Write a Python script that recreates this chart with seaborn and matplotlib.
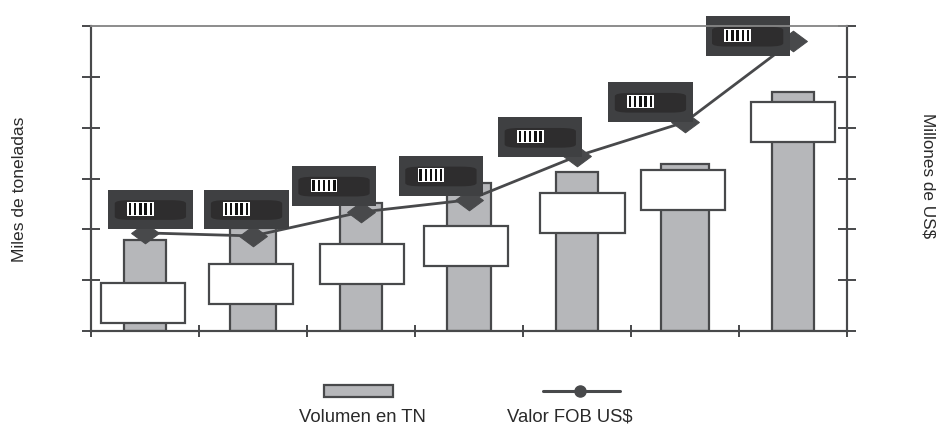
import matplotlib
matplotlib.use("Agg")
import matplotlib.pyplot as plt
from matplotlib.lines import Line2D
from matplotlib.patches import FancyBboxPatch, Rectangle
import pandas as pd
import seaborn as sns

# periods are not readable in the source, they are masked
periods = ["1", "2", "3", "4", "5", "6", "7"]
volumen = [1.79, 2.03, 2.52, 2.91, 3.13, 3.29, 4.70]
valor_fob = [1.93, 1.87, 2.34, 2.58, 3.44, 4.11, 5.71]

# white boxes over the bars, dark boxes over the line
white_low = [0.16, 0.53, 0.92, 1.28, 1.93, 2.38, 3.72]
dark_low = [2.00, 2.00, 2.46, 2.66, 3.42, 4.11, 5.41]

BAR_WIDTHS = [0.39, 0.435, 0.38, 0.41, 0.39, 0.445, 0.38]
WHITE_SHIFT = [-0.02, -0.02, 0.01, -0.03, 0.05, -0.02, 0.0]
DARK_SHIFT = [0.05, -0.06, -0.25, -0.26, -0.34, -0.32, -0.42]

EDGE = "#48494b"
BAR = "#b6b7ba"
DARK = "#3f4042"
BLOB = "#2e2d2e"
WIDE_DIAMOND = [(-1.35, 0), (0, -1), (1.35, 0), (0, 1), (-1.35, 0)]

sns.set_theme(style="white")
plt.rcParams["font.family"] = ["Liberation Sans", "DejaVu Sans"]

df = pd.DataFrame({"periodo": periods, "volumen": volumen, "valor": valor_fob})
df["pos"] = range(len(df))

fig = plt.figure(figsize=(9.4, 4.25), dpi=100)
ax = fig.add_axes([91 / 940, (425 - 331) / 425, 756 / 940, 305 / 425])

sns.barplot(data=df, x="periodo", y="volumen", color=BAR, saturation=1, width=0.4,
            edgecolor=EDGE, linewidth=1.6, zorder=2, ax=ax)
for bar, w in zip(ax.patches, BAR_WIDTHS):
    center = bar.get_x() + bar.get_width() / 2
    bar.set_width(w)
    bar.set_x(center - w / 2)

sns.lineplot(data=df, x="pos", y="valor", color=EDGE, linewidth=2, marker=WIDE_DIAMOND,
             markersize=20, markeredgecolor=EDGE, zorder=4, clip_on=False, ax=ax)

for i in range(len(periods)):
    ax.add_patch(Rectangle((i + WHITE_SHIFT[i] - 0.39, white_low[i]), 0.78, 0.79, facecolor="white",
                           edgecolor=EDGE, linewidth=1.6, zorder=3))

    left = i + DARK_SHIFT[i] - 0.39
    ax.add_patch(Rectangle((left, dark_low[i]), 0.78, 0.78, facecolor=DARK, edgecolor="none",
                           zorder=5, clip_on=False))
    ax.add_patch(FancyBboxPatch((left + 0.09, dark_low[i] + 0.2), 0.6, 0.36,
                                boxstyle="round,pad=0.03,rounding_size=0.14",
                                mutation_aspect=0.45, facecolor=BLOB, edgecolor="none",
                                zorder=6, clip_on=False))
    # little barcode mark
    ax.add_patch(Rectangle((left + 0.175, dark_low[i] + 0.27), 0.245, 0.27, facecolor="white",
                           edgecolor="none", zorder=7, clip_on=False))
    for k in range(5):
        ax.add_patch(Rectangle((left + 0.19 + k * 0.048, dark_low[i] + 0.29), 0.022, 0.23,
                               facecolor="#111111", edgecolor="none", zorder=8, clip_on=False))

ax.set_xlim(-0.5, 6.5)
ax.set_ylim(0, 6)
ax.set_xticks([x - 0.5 for x in range(8)])
ax.set_xticklabels([])
ax.set_yticks(range(7))
ax.set_yticklabels([])
ax.set_xlabel("")
ax.set_ylabel("")
ax.tick_params(axis="y", left=True, direction="inout", length=13.5, width=1.4, color=EDGE)
ax.tick_params(axis="x", bottom=True, direction="inout", length=8.6, width=1.4, color=EDGE)

ax2 = ax.twinx()
ax2.set_ylim(0, 6)
ax2.set_yticks(range(7))
ax2.set_yticklabels([])
ax2.tick_params(axis="y", right=True, direction="inout", length=13.5, width=1.4, color=EDGE)

for a in [ax, ax2]:
    for name, sp in a.spines.items():
        sp.set_visible(True)
        sp.set_color(EDGE)
        sp.set_linewidth(1.5)
    a.spines["top"].set_color("#8c8c8c")
    a.spines["top"].set_linewidth(1.2)

fig.text(20 / 940, 1 - 189 / 425, "Miles de toneladas", rotation=90, ha="center", va="center",
         fontsize=12.6, color="#2a2a2a")
fig.text(928 / 940, 1 - 176 / 425, "Millones de US$", rotation=270, ha="center", va="center",
         fontsize=12.3, color="#2a2a2a")

# legend drawn by hand, keys sit far apart in the source
fig.add_artist(Rectangle((324 / 940, 1 - 397 / 425), 69 / 940, 12 / 425, facecolor=BAR, edgecolor=EDGE,
                         linewidth=1.6, transform=fig.transFigure))
fig.add_artist(Line2D([543 / 940, 620 / 940], [1 - 391 / 425] * 2, color=EDGE, linewidth=2.2,
                      transform=fig.transFigure))
fig.add_artist(Line2D([580 / 940], [1 - 391 / 425], color=EDGE, marker="o", markersize=8,
                      transform=fig.transFigure))
fig.text(362 / 940, 1 - 417 / 425, "Volumen en TN", ha="center", va="center", fontsize=13.3, color="#2a2a2a")
fig.text(570 / 940, 1 - 417 / 425, "Valor FOB US$", ha="center", va="center", fontsize=13.3, color="#2a2a2a")

fig.savefig("out.png", dpi=100, facecolor="white")
